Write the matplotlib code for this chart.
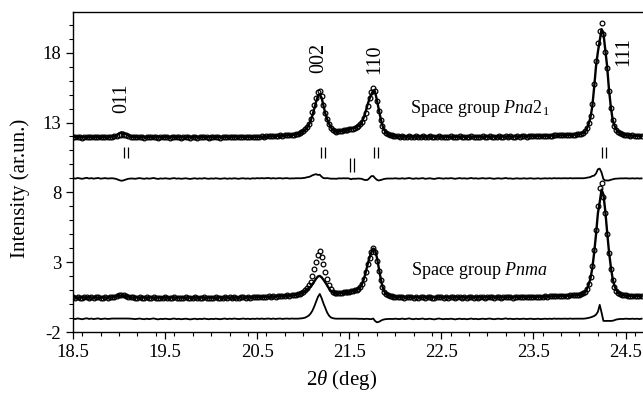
import numpy as np
import matplotlib
matplotlib.use("Agg")
import matplotlib.pyplot as plt
from matplotlib.ticker import MultipleLocator

plt.rcParams['font.family'] = ['Liberation Serif', 'DejaVu Serif']
plt.rcParams['mathtext.fontset'] = 'custom'
plt.rcParams['mathtext.rm'] = 'Liberation Serif'
plt.rcParams['mathtext.it'] = 'Liberation Serif:italic'
plt.rcParams['axes.unicode_minus'] = False

# 2theta sampling (deg): 0.025 on flat background, 0.02 across the peaks
tth = np.concatenate([
    18.5 + 0.025 * np.arange(96),
    20.9 + 0.02 * np.arange(55),
    22.0 + 0.025 * np.arange(80),
    24.0 + 0.02 * np.arange(25),
    24.5 + 0.025 * np.arange(8),
])

# space group Pna2_1 : observed / calculated
pna_obs = [
    11.97, 11.93, 11.98, 11.95, 11.92, 11.96, 11.99, 11.94, 11.97, 11.93,
    11.96, 11.98, 11.93, 11.95, 11.97, 11.94, 11.96, 11.99, 12.01, 12.05,
    12.10, 12.13, 12.14, 12.10, 12.04, 11.99, 11.96, 11.93, 11.95, 11.97,
    11.94, 11.92, 11.96, 11.93, 11.95, 11.98, 11.94, 11.91, 11.95, 11.93,
    11.96, 11.94, 11.92, 11.95, 11.97, 11.93, 11.95, 11.92, 11.94, 11.96,
    11.93, 11.91, 11.94, 11.96, 11.92, 11.95, 11.93, 11.97, 11.94, 11.92,
    11.95, 11.93, 11.96, 11.94, 11.92, 11.95, 11.97, 11.93, 11.96, 11.94,
    11.97, 11.95, 11.93, 11.96, 11.98, 11.95, 11.97, 11.94, 11.98, 11.96,
    11.99, 11.97, 12.00, 11.98, 12.01, 12.03, 12.00, 12.04, 12.02, 12.05,
    12.07, 12.05, 12.08, 12.10, 12.09, 12.12,
    # 20.90 - 21.98
    12.12, 12.15, 12.19, 12.24, 12.30, 12.40, 12.52, 12.70, 12.92, 13.25,
    13.72, 14.25, 14.78, 15.15, 15.28, 14.88, 14.22, 13.66, 13.26, 12.92,
    12.64, 12.47, 12.38, 12.33, 12.36, 12.38, 12.40, 12.43, 12.45, 12.49,
    12.50, 12.54, 12.57, 12.60, 12.66, 12.75, 12.86, 13.02, 13.30, 13.70,
    14.20, 14.72, 15.18, 15.45, 15.22, 14.52, 13.80, 13.20, 12.72, 12.42,
    12.26, 12.16, 12.10, 12.07, 12.05,
    # 22.0 - 23.975
    12.03, 12.00, 11.98, 12.01, 11.97, 11.99, 12.02, 11.98, 11.96, 12.00,
    11.97, 11.99, 12.01, 11.96, 11.98, 12.00, 11.97, 11.95, 11.99, 12.01,
    11.98, 11.96, 11.99, 11.97, 12.00, 11.98, 11.95, 11.98, 12.00, 11.97,
    11.99, 11.96, 11.98, 12.01, 11.97, 11.99, 11.96, 11.98, 12.00, 11.97,
    11.99, 12.01, 11.98, 11.96, 11.99, 12.00, 11.97, 11.99, 12.02, 11.98,
    12.00, 11.97, 11.99, 12.01, 11.98, 12.00, 12.02, 11.99, 12.01, 12.03,
    12.00, 12.02, 12.04, 12.01, 12.03, 12.05, 12.04, 12.06, 12.05, 12.08,
    12.07, 12.09, 12.08, 12.10, 12.11, 12.10, 12.13, 12.12, 12.14, 12.15,
    # 24.00 - 24.48
    12.17, 12.21, 12.27, 12.38, 12.60, 12.95, 13.48, 14.35, 15.75, 17.40,
    18.70, 19.55, 20.10, 19.35, 18.05, 16.90, 15.25, 14.05, 13.15, 12.75,
    12.48, 12.32, 12.22, 12.16, 12.12,
    12.10, 12.08, 12.06, 12.07, 12.05, 12.06, 12.04, 12.05,
]
pna_calc = [
    11.95, 11.95, 11.95, 11.95, 11.95, 11.95, 11.95, 11.95, 11.95, 11.95,
    11.95, 11.95, 11.95, 11.95, 11.95, 11.95, 11.96, 11.98, 12.02, 12.10,
    12.22, 12.30, 12.28, 12.18, 12.07, 12.00, 11.97, 11.96, 11.95, 11.95,
    11.95, 11.95, 11.95, 11.95, 11.95, 11.95, 11.95, 11.95, 11.95, 11.95,
    11.95, 11.95, 11.95, 11.95, 11.95, 11.95, 11.95, 11.95, 11.95, 11.95,
    11.95, 11.95, 11.95, 11.95, 11.95, 11.95, 11.95, 11.95, 11.95, 11.95,
    11.95, 11.95, 11.95, 11.95, 11.95, 11.96, 11.96, 11.96, 11.96, 11.96,
    11.96, 11.96, 11.96, 11.96, 11.97, 11.97, 11.97, 11.97, 11.97, 11.97,
    11.97, 11.97, 11.98, 11.98, 11.99, 12.00, 12.01, 12.02, 12.03, 12.04,
    12.05, 12.06, 12.07, 12.08, 12.10, 12.12,
    12.12, 12.14, 12.18, 12.23, 12.29, 12.37, 12.48, 12.62, 12.82, 13.10,
    13.50, 13.98, 14.48, 14.90, 15.02, 14.76, 14.20, 13.65, 13.24, 12.92,
    12.66, 12.49, 12.40, 12.36, 12.36, 12.38, 12.40, 12.42, 12.45, 12.48,
    12.51, 12.60, 12.59, 12.63, 12.68, 12.76, 12.88, 13.06, 13.40, 13.82,
    14.30, 14.70, 15.02, 15.28, 15.20, 14.62, 13.95, 13.32, 12.80, 12.46,
    12.28, 12.17, 12.11, 12.08, 12.06,
    12.02, 12.01, 12.00, 12.00, 11.99, 11.99, 11.99, 11.99, 11.99, 11.99,
    11.99, 11.99, 11.99, 11.99, 11.99, 11.99, 11.99, 11.99, 11.99, 11.99,
    11.98, 11.98, 11.98, 11.98, 11.98, 11.98, 11.98, 11.98, 11.98, 11.98,
    11.98, 11.98, 11.98, 11.98, 11.98, 11.98, 11.98, 11.98, 11.98, 11.98,
    11.99, 11.99, 11.99, 11.99, 11.99, 11.99, 11.99, 11.99, 11.99, 11.99,
    12.00, 12.00, 12.00, 12.00, 12.00, 12.01, 12.01, 12.01, 12.01, 12.02,
    12.02, 12.03, 12.03, 12.03, 12.04, 12.04, 12.05, 12.05, 12.06, 12.06,
    12.07, 12.08, 12.08, 12.09, 12.10, 12.10, 12.11, 12.12, 12.13, 12.14,
    12.16, 12.20, 12.26, 12.36, 12.55, 12.88, 13.38, 14.18, 15.55, 17.05,
    18.05, 18.85, 19.68, 19.40, 18.20, 17.05, 15.40, 14.15, 13.22, 12.78,
    12.50, 12.33, 12.22, 12.16, 12.12,
    12.09, 12.08, 12.07, 12.06, 12.06, 12.05, 12.05, 12.05,
]

# space group Pnma : observed / calculated
pnma_obs = [
    0.49, 0.45, 0.50, 0.47, 0.44, 0.48, 0.51, 0.46, 0.49, 0.45,
    0.48, 0.50, 0.45, 0.47, 0.49, 0.46, 0.48, 0.51, 0.54, 0.58,
    0.62, 0.64, 0.63, 0.59, 0.54, 0.50, 0.48, 0.45, 0.47, 0.49,
    0.46, 0.44, 0.48, 0.45, 0.47, 0.50, 0.46, 0.43, 0.47, 0.45,
    0.48, 0.46, 0.44, 0.47, 0.49, 0.45, 0.47, 0.44, 0.46, 0.48,
    0.45, 0.43, 0.46, 0.48, 0.44, 0.47, 0.45, 0.49, 0.46, 0.44,
    0.47, 0.45, 0.48, 0.46, 0.44, 0.47, 0.49, 0.45, 0.48, 0.46,
    0.49, 0.47, 0.45, 0.48, 0.50, 0.47, 0.49, 0.46, 0.50, 0.48,
    0.51, 0.49, 0.52, 0.50, 0.53, 0.55, 0.52, 0.56, 0.54, 0.57,
    0.59, 0.57, 0.60, 0.62, 0.61, 0.64,
    0.64, 0.67, 0.71, 0.76, 0.82, 0.90, 1.00, 1.15, 1.35, 1.62,
    2.00, 2.50, 3.05, 3.55, 3.80, 3.40, 2.85, 2.32, 1.80, 1.35,
    1.05, 0.90, 0.82, 0.78, 0.78, 0.80, 0.82, 0.84, 0.86, 0.88,
    0.90, 0.92, 0.95, 0.98, 1.03, 1.10, 1.22, 1.45, 1.80, 2.30,
    2.85, 3.30, 3.70, 4.00, 3.75, 3.10, 2.40, 1.75, 1.20, 0.88,
    0.72, 0.64, 0.59, 0.56, 0.54,
    0.53, 0.50, 0.48, 0.51, 0.47, 0.49, 0.52, 0.48, 0.46, 0.50,
    0.47, 0.49, 0.51, 0.46, 0.48, 0.50, 0.47, 0.45, 0.49, 0.51,
    0.48, 0.46, 0.49, 0.47, 0.50, 0.48, 0.45, 0.48, 0.50, 0.47,
    0.49, 0.46, 0.48, 0.51, 0.47, 0.49, 0.46, 0.48, 0.50, 0.47,
    0.49, 0.51, 0.48, 0.46, 0.49, 0.50, 0.47, 0.49, 0.52, 0.48,
    0.50, 0.47, 0.49, 0.51, 0.48, 0.50, 0.52, 0.49, 0.51, 0.53,
    0.50, 0.52, 0.54, 0.51, 0.53, 0.55, 0.54, 0.56, 0.55, 0.58,
    0.57, 0.59, 0.58, 0.60, 0.61, 0.60, 0.63, 0.62, 0.64, 0.65,
    0.67, 0.71, 0.77, 0.88, 1.10, 1.45, 1.95, 2.75, 3.90, 5.30,
    7.00, 8.30, 8.65, 7.70, 6.55, 5.05, 3.65, 2.55, 1.70, 1.20,
    0.95, 0.80, 0.71, 0.66, 0.63,
    0.62, 0.60, 0.58, 0.60, 0.57, 0.59, 0.56, 0.58,
]
pnma_calc = [
    0.47, 0.47, 0.47, 0.47, 0.47, 0.47, 0.47, 0.47, 0.47, 0.47,
    0.47, 0.47, 0.47, 0.47, 0.47, 0.47, 0.48, 0.49, 0.52, 0.56,
    0.60, 0.62, 0.61, 0.57, 0.52, 0.49, 0.48, 0.47, 0.47, 0.47,
    0.47, 0.47, 0.47, 0.47, 0.47, 0.47, 0.47, 0.47, 0.47, 0.47,
    0.47, 0.47, 0.47, 0.47, 0.47, 0.47, 0.47, 0.47, 0.47, 0.47,
    0.47, 0.47, 0.47, 0.47, 0.47, 0.47, 0.47, 0.47, 0.47, 0.47,
    0.47, 0.47, 0.47, 0.47, 0.47, 0.47, 0.47, 0.47, 0.47, 0.47,
    0.47, 0.47, 0.47, 0.48, 0.48, 0.48, 0.48, 0.48, 0.49, 0.49,
    0.49, 0.50, 0.50, 0.51, 0.52, 0.53, 0.53, 0.54, 0.55, 0.56,
    0.57, 0.58, 0.59, 0.60, 0.61, 0.62,
    0.63, 0.66, 0.70, 0.74, 0.79, 0.85, 0.92, 1.00, 1.12, 1.25,
    1.42, 1.62, 1.82, 1.98, 2.02, 1.92, 1.75, 1.55, 1.35, 1.12,
    0.95, 0.85, 0.80, 0.77, 0.77, 0.79, 0.81, 0.83, 0.85, 0.87,
    0.89, 0.91, 0.94, 0.97, 1.02, 1.10, 1.22, 1.45, 1.82, 2.30,
    2.85, 3.32, 3.72, 3.98, 3.90, 3.35, 2.62, 1.90, 1.28, 0.92,
    0.74, 0.65, 0.60, 0.57, 0.55,
    0.52, 0.51, 0.50, 0.49, 0.49, 0.49, 0.49, 0.49, 0.49, 0.49,
    0.49, 0.49, 0.49, 0.49, 0.49, 0.49, 0.49, 0.49, 0.49, 0.49,
    0.49, 0.49, 0.49, 0.49, 0.49, 0.49, 0.49, 0.49, 0.49, 0.49,
    0.49, 0.49, 0.49, 0.49, 0.49, 0.49, 0.49, 0.49, 0.49, 0.49,
    0.49, 0.49, 0.49, 0.49, 0.49, 0.49, 0.49, 0.49, 0.49, 0.49,
    0.49, 0.49, 0.50, 0.50, 0.50, 0.50, 0.51, 0.51, 0.51, 0.52,
    0.52, 0.53, 0.53, 0.53, 0.54, 0.54, 0.55, 0.55, 0.56, 0.56,
    0.57, 0.58, 0.58, 0.59, 0.60, 0.60, 0.61, 0.62, 0.63, 0.64,
    0.66, 0.70, 0.76, 0.86, 1.06, 1.38, 1.85, 2.60, 3.70, 5.00,
    6.50, 7.30, 8.20, 7.85, 6.70, 5.20, 3.80, 2.70, 1.84, 1.30,
    1.00, 0.83, 0.72, 0.67, 0.64,
    0.61, 0.60, 0.59, 0.59, 0.58, 0.58, 0.58, 0.57,
]

diff_offset = {'pna': 9.0, 'pnma': -1.05}

# Bragg reflection positions (deg)
refl_pna = [19.077, 21.21, 21.795, 24.27]
refl_extra = [21.535]
hkl = ['011', '002', '110', '111']
hkl_x = [19.03, 21.17, 21.78, 24.48]
hkl_y = [14.7, 17.6, 17.55, 18.1]

pna_obs = np.array(pna_obs)
pna_calc = np.array(pna_calc)
pnma_obs = np.array(pnma_obs)
pnma_calc = np.array(pnma_calc)
assert len(tth) == len(pna_obs) == len(pna_calc) == len(pnma_obs) == len(pnma_calc)

fig = plt.figure(figsize=(6.43, 4.04), dpi=100)
ax = fig.add_axes([0.1135, 0.178, 0.8865, 0.792])

for obs, calc, off in [(pna_obs, pna_calc, diff_offset['pna']),
                       (pnma_obs, pnma_calc, diff_offset['pnma'])]:
    ax.plot(tth, obs, 'o', ms=3.4, mfc='none', mec='black', mew=0.9, zorder=2)
    ax.plot(tth, calc, '-', color='black', lw=1.7, zorder=3)
    ax.plot(tth, obs - calc + off, '-', color='black', lw=1.3, zorder=3)

# double bars for the reflections
dd = 0.022
for p in refl_pna:
    ax.vlines([p - dd, p + dd], 10.45, 11.25, color='black', lw=0.9)
for p in refl_extra:
    ax.vlines([p - dd, p + dd], 9.46, 10.46, color='black', lw=0.9)

for lab, x, y in zip(hkl, hkl_x, hkl_y):
    ax.text(x, y, lab, rotation=90, ha='center', va='center', fontsize=14.5)

ax.text(22.16, 14.0, 'Space group $Pna2_1$', fontsize=13, ha='left', va='center')
ax.text(22.17, 2.39, 'Space group $Pnma$', fontsize=13, ha='left', va='center')

ax.set_xlim(18.5, 24.69)
ax.set_ylim(-2, 20.9)
ax.set_xticks([18.5, 19.5, 20.5, 21.5, 22.5, 23.5, 24.5])
ax.xaxis.set_minor_locator(MultipleLocator(0.2))
ax.set_yticks([-2, 3, 8, 13, 18])
ax.yaxis.set_minor_locator(MultipleLocator(1))
ax.tick_params(which='major', direction='out', length=5, width=0.9, labelsize=13.5)
ax.tick_params(which='minor', direction='out', length=3, width=0.8)
ax.spines['right'].set_visible(False)
for s in ['left', 'bottom', 'top']:
    ax.spines[s].set_linewidth(1.0)

ax.text(-0.093, 0.45, 'Intensity (ar.un.)', rotation=90, ha='center',
        va='center', fontsize=15, transform=ax.transAxes)
ax.text(0.471, -0.15, r'2$\theta$ (deg)', ha='center', va='center',
        fontsize=15, transform=ax.transAxes)

fig.savefig('out.png', dpi=100)
